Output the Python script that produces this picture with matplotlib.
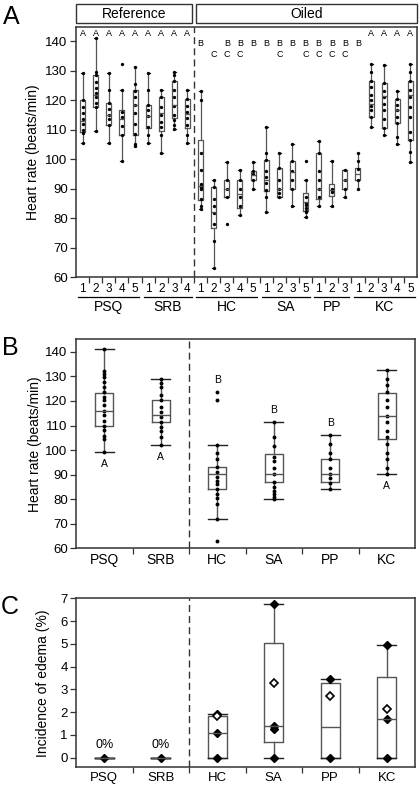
import numpy as np
import matplotlib
matplotlib.use('Agg')
import matplotlib.pyplot as plt
from matplotlib.patches import Rectangle
import matplotlib.transforms as mtransforms

plt.rcParams['font.family'] = ['Liberation Sans', 'DejaVu Sans']

# ---------------- Panel A data ----------------
a_groups = ['PSQ', 'SRB', 'HC', 'SA', 'PP', 'KC']
a_group_sizes = [5, 4, 5, 4, 3, 5]
a_sub = ['1', '2', '3', '4', '5', '1', '2', '3', '4', '1', '2', '3', '4', '5',
         '1', '2', '3', '5', '1', '2', '3', '1', '2', '3', '4', '5']
a_whislo = [105.3, 109.5, 105.3, 99.3, 104.3, 105.3, 102.0, 110.3, 105.3,
            83.2, 63.0, 87.0, 81.0, 90.0, 82.0, 87.0, 84.0, 80.3, 84.0, 84.0, 87.0,
            90.0, 111.0, 108.0, 105.0, 99.0]
a_q1 = [109.3, 117.5, 111.5, 108.3, 108.3, 110.5, 109.5, 113.8, 110.5,
        86.0, 76.5, 87.0, 83.3, 93.0, 89.3, 87.0, 90.0, 82.5, 86.3, 87.4, 90.0,
        93.0, 114.2, 110.4, 112.3, 106.6]
a_med = [112.8, 121.8, 115.0, 113.5, 118.5, 114.5, 115.5, 118.5, 115.3,
         91.0, 82.0, 90.0, 88.0, 94.5, 93.0, 90.0, 95.5, 85.5, 90.0, 89.5, 93.0,
         95.0, 118.8, 121.3, 116.6, 121.7]
a_q3 = [120.2, 128.5, 119.0, 116.5, 123.5, 118.5, 121.0, 126.5, 120.3,
        106.5, 90.5, 93.0, 93.0, 96.0, 99.6, 97.0, 99.5, 88.5, 102.0, 91.7, 96.4,
        97.0, 126.5, 125.8, 120.5, 126.5]
a_whishi = [129.3, 141.0, 129.3, 123.5, 131.3, 129.3, 123.5, 129.5, 123.5,
            123.0, 93.0, 99.0, 96.3, 99.0, 111.0, 102.0, 105.0, 93.0, 106.3, 99.5, 96.4,
            102.2, 132.3, 131.8, 123.1, 132.4]
a_fliers = [[], [], [], [132.3], [], [], [], [], [],
            [], [], [78.0], [], [], [], [], [], [99.3], [], [], [],
            [], [], [], [], []]
a_points = [
    [129.3, 120.0, 117.5, 115.5, 113.5, 112.0, 109.8, 109.0, 105.3],
    [141.0, 129.5, 128.5, 126.2, 124.0, 122.3, 121.0, 119.0, 117.5, 109.5],
    [129.3, 123.5, 119.0, 117.0, 115.0, 113.5, 111.5, 105.3],
    [123.5, 116.0, 114.3, 111.3, 108.3, 99.3],
    [131.3, 125.5, 123.2, 121.0, 118.5, 115.5, 112.0, 108.5, 105.0, 104.3],
    [129.3, 123.5, 118.5, 116.5, 114.5, 111.0, 108.3, 105.3],
    [123.5, 121.0, 117.7, 115.1, 112.6, 110.9, 108.1, 102.0],
    [129.5, 128.5, 126.5, 123.5, 121.0, 118.0, 115.0, 113.3, 111.5, 110.3],
    [123.5, 120.3, 118.0, 116.0, 114.0, 111.5, 108.3, 105.3],
    [123.0, 120.0, 102.0, 96.2, 91.5, 91.0, 90.5, 90.0, 86.5, 84.0, 83.2],
    [93.0, 90.5, 86.6, 84.0, 81.7, 78.1, 72.1, 63.0],
    [99.0, 93.0, 90.0, 87.0],
    [96.3, 93.0, 90.0, 87.0, 84.0, 81.0],
    [99.0, 96.0, 95.0, 93.0, 90.0],
    [111.0, 102.0, 99.6, 96.0, 94.0, 92.0, 89.5, 87.2, 82.0],
    [102.0, 97.0, 93.0, 90.0, 88.5, 87.0],
    [105.0, 99.5, 96.0, 93.0, 90.0, 84.0],
    [93.0, 87.0, 85.0, 84.5, 83.5, 82.5, 82.0, 80.3],
    [106.3, 102.0, 96.0, 93.0, 90.0, 87.0, 84.0],
    [99.5, 90.0, 89.5, 89.0, 84.0],
    [96.4, 93.0, 90.0, 87.0],
    [102.2, 99.3, 96.5, 93.0, 90.0],
    [132.3, 129.5, 126.5, 124.3, 121.7, 120.0, 118.0, 116.7, 114.2, 111.0],
    [131.8, 125.8, 123.2, 121.0, 118.8, 116.5, 113.5, 110.4, 108.0],
    [123.1, 120.5, 118.2, 116.6, 114.3, 112.3, 107.6, 105.0],
    [132.4, 129.5, 126.5, 123.3, 121.0, 117.7, 114.3, 109.3, 106.6, 102.3, 99.0],
]
a_letters = ['A'] * 9 + ['B', 'C', 'BC', 'BC', 'B', 'B', 'BC', 'B', 'BC', 'BC', 'BC', 'BC',
                         'B', 'A', 'A', 'A', 'A']
a_headers = ['Reference', 'Oiled']
a_header_split = 9  # number of reference boxes

# ---------------- Panel B data ----------------
b_cats = ['PSQ', 'SRB', 'HC', 'SA', 'PP', 'KC']
b_whislo = [99.3, 102.2, 72.0, 80.0, 84.0, 90.2]
b_q1 = [110.0, 111.3, 84.0, 87.0, 87.0, 104.5]
b_med = [116.1, 114.3, 90.2, 90.2, 90.2, 114.0]
b_q3 = [123.3, 120.2, 93.2, 98.6, 96.2, 123.3]
b_whishi = [141.3, 128.8, 102.2, 111.3, 106.1, 132.5]
b_fliers = [[], [], [123.6, 120.2, 63.0], [], [], []]
b_points = [
    [141.3, 132.2, 131.1, 129.7, 127.7, 125.7, 123.6, 121.6, 120.2, 118.2, 116.1,
     114.1, 112.0, 110.0, 108.0, 105.9, 104.5, 99.3],
    [128.8, 127.2, 125.5, 122.3, 120.2, 117.5, 115.4, 113.4, 111.3, 109.5, 107.9,
     105.2, 102.2],
    [102.2, 99.0, 96.3, 93.2, 90.9, 88.9, 87.5, 86.1, 84.1, 82.1, 80.7, 78.0, 71.8],
    [111.3, 105.2, 101.8, 97.0, 95.6, 92.9, 90.2, 87.0, 84.9, 83.5, 82.2, 80.8, 80.1],
    [106.1, 102.4, 99.0, 96.3, 92.9, 90.2, 88.8, 86.8, 84.0],
    [132.5, 129.1, 126.3, 123.6, 120.2, 117.5, 114.0, 111.3, 107.9, 105.2, 102.4,
     99.0, 96.3, 92.9, 90.2],
]
b_letters = ['A', 'A', 'B', 'B', 'B', 'A']

# ---------------- Panel C data ----------------
c_cats = ['PSQ', 'SRB', 'HC', 'SA', 'PP', 'KC']
c_whislo = [0, 0, 0, 0, 0, 0]
c_q1 = [0, 0, 0, 0.67, 0, 0]
c_med = [0, 0, 1.07, 1.39, 1.36, 1.71]
c_q3 = [0, 0, 1.83, 5.02, 3.26, 3.55]
c_whishi = [0, 0, 1.93, 6.77, 3.47, 4.94]
c_filled = [[0], [0], [1.93, 1.07, 0], [6.77, 1.40, 1.27, 0], [3.47, 0], [4.94, 1.71, 0]]
c_open = [[], [], [1.83], [3.29], [2.71], [2.14]]
c_zero_labels = ['0%', '0%', '', '', '', '']

# ---------------- Figure ----------------
W, H = 420, 788
fig = plt.figure(figsize=(W / 100, H / 100), dpi=100)


def axes_px(l, t, r, b):
    return fig.add_axes([l / W, 1 - b / H, (r - l) / W, (b - t) / H])


EDGE = '#555555'
FRAME = '#333333'


def style_frame(ax):
    for s in ax.spines.values():
        s.set_color(FRAME)
        s.set_linewidth(1.1)
    ax.tick_params(axis='both', direction='out', length=4, width=0.9, color=FRAME,
                   labelsize=9.5, pad=2)


def make_stats(wl, q1, md, q3, wh):
    return [dict(whislo=a, q1=b, med=c, q3=d, whishi=e, fliers=[])
            for a, b, c, d, e in zip(wl, q1, md, q3, wh)]


# ---------- Panel A ----------
axA = axes_px(76, 27, 417, 277)
nA = len(a_med)
posA = np.arange(nA)
axA.bxp(make_stats(a_whislo, a_q1, a_med, a_q3, a_whishi), positions=posA,
        widths=0.38, capwidths=0.22, showfliers=False,
        boxprops=dict(color=EDGE, lw=0.9), whiskerprops=dict(color=EDGE, lw=0.9),
        capprops=dict(color='#222222', lw=0.9), medianprops=dict(color=EDGE, lw=0.9))
for i in range(nA):
    pts = a_points[i] + a_fliers[i]
    axA.plot(np.full(len(pts), posA[i]), pts, 'o', ms=2.4, color='k', mew=0)
axA.set_xlim(-0.5, nA - 0.5)
axA.set_ylim(60, 144.8)
axA.set_yticks(np.arange(60, 141, 10))
axA.set_xticks(np.arange(nA - 1) + 0.5)
axA.set_xticklabels([])
style_frame(axA)
axA.axvline(a_header_split - 0.5, color=FRAME, lw=1.0, ls=(0, (5, 3)))
axA.text(-0.126, 0.5, 'Heart rate (beats/min)', rotation=90, ha='center', va='center',
         transform=axA.transAxes, fontsize=10)

transA = mtransforms.blended_transform_factory(axA.transData, axA.transAxes)
row_y = {'A': 0.976, 'B': 0.934, 'C': 0.890}
for i, lab in enumerate(a_letters):
    for ch in lab:
        axA.text(posA[i], row_y[ch], ch, transform=transA, ha='center', va='center',
                 fontsize=6.5)
for i, s in enumerate(a_sub):
    axA.text(posA[i], -0.047, s, transform=transA, ha='center', va='center', fontsize=8.5)
start = 0
for g, n in zip(a_groups, a_group_sizes):
    x0, x1 = start, start + n - 1
    axA.plot([x0 - 0.32, x1 + 0.32], [-0.079, -0.079], transform=transA, clip_on=False,
             color='k', lw=0.9)
    axA.text((x0 + x1) / 2, -0.12, g, transform=transA, ha='center', va='center',
             fontsize=10)
    start += n
# header boxes
hdr_bounds = [(-0.5, a_header_split - 0.5 - 0.13), (a_header_split - 0.5 + 0.13, nA - 0.5)]
for (x0, x1), txt in zip(hdr_bounds, a_headers):
    axA.add_patch(Rectangle((x0, 1.0148), x1 - x0, 0.076, transform=transA,
                            clip_on=False, fill=False, edgecolor=FRAME, lw=1.0))
    axA.text((x0 + x1) / 2, 1.052, txt, transform=transA, ha='center', va='center',
             fontsize=10)
fig.text(11 / W, 1 - 17 / H, 'A', fontsize=18, ha='center', va='center')

# ---------- Panel B ----------
axB = axes_px(76, 339, 415, 548.4)
posB = np.arange(len(b_cats))
axB.bxp(make_stats(b_whislo, b_q1, b_med, b_q3, b_whishi), positions=posB,
        widths=0.32, capwidths=0.33, showfliers=False,
        boxprops=dict(color=EDGE, lw=1.0), whiskerprops=dict(color=EDGE, lw=1.0),
        capprops=dict(color='#222222', lw=1.0), medianprops=dict(color=EDGE, lw=1.0))
for i in range(len(b_cats)):
    pts = b_points[i] + b_fliers[i]
    axB.plot(np.full(len(pts), posB[i]), pts, 'o', ms=2.8, color='k', mew=0)
    if b_letters[i] == 'A':
        y = b_whislo[i] - 5.0
    else:
        y = max([b_whishi[i]] + b_fliers[i]) + 5.0
    axB.text(posB[i], y, b_letters[i], ha='center', va='center', fontsize=7.5)
axB.set_xlim(-0.5, len(b_cats) - 0.5)
axB.set_ylim(60, 145.2)
axB.set_yticks(np.arange(60, 141, 10))
axB.set_xticks(posB)
axB.set_xticklabels(b_cats)
axB.set_xticks(posB[:-1] + 0.5, minor=True)
style_frame(axB)
axB.tick_params(axis='x', which='major', length=0, pad=3.5, labelsize=10)
axB.tick_params(axis='x', which='minor', direction='out', length=4, width=0.9, color=FRAME)
axB.axvline(1.5, color=FRAME, lw=1.0, ls=(0, (5, 3)))
axB.text(-0.121, 0.5, 'Heart rate (beats/min)', rotation=90, ha='center', va='center',
         transform=axB.transAxes, fontsize=10)
fig.text(10 / W, 1 - 348 / H, 'B', fontsize=18, ha='center', va='center')

# ---------- Panel C ----------
axC = axes_px(76, 598.3, 415, 767.3)
posC = np.arange(len(c_cats))
axC.bxp(make_stats(c_whislo, c_q1, c_med, c_q3, c_whishi), positions=posC,
        widths=0.34, capwidths=0.33, showfliers=False,
        boxprops=dict(color=EDGE, lw=1.0), whiskerprops=dict(color=EDGE, lw=1.0),
        capprops=dict(color='#222222', lw=1.0), medianprops=dict(color=EDGE, lw=1.0))
for i in range(len(c_cats)):
    f = c_filled[i]
    axC.plot(np.full(len(f), posC[i]), f, 'D', ms=3.6, color='k', mec='k')
    o = c_open[i]
    if o:
        axC.plot(np.full(len(o), posC[i]), o, 'D', ms=3.6, mfc='white', mec='k', mew=1.2)
    if c_zero_labels[i]:
        axC.text(posC[i], c_whishi[i] + 0.56, c_zero_labels[i], ha='center', va='center',
                 fontsize=9)
axC.set_xlim(-0.5, len(c_cats) - 0.5)
axC.set_ylim(-0.42, 7)
axC.set_yticks(np.arange(0, 8, 1))
axC.set_xticks(posC)
axC.set_xticklabels(c_cats)
axC.set_xticks(posC[:-1] + 0.5, minor=True)
style_frame(axC)
axC.tick_params(axis='x', which='major', length=0, pad=3.5, labelsize=9.5)
axC.tick_params(axis='x', which='minor', direction='out', length=4, width=0.9, color=FRAME)
axC.axvline(1.5, color=FRAME, lw=1.0, ls=(0, (5, 3)))
axC.text(-0.097, 0.5, 'Incidence of edema (%)', rotation=90, ha='center', va='center',
         transform=axC.transAxes, fontsize=10)
fig.text(10 / W, 1 - 607 / H, 'C', fontsize=18, ha='center', va='center')

fig.savefig('out.png', dpi=100)
